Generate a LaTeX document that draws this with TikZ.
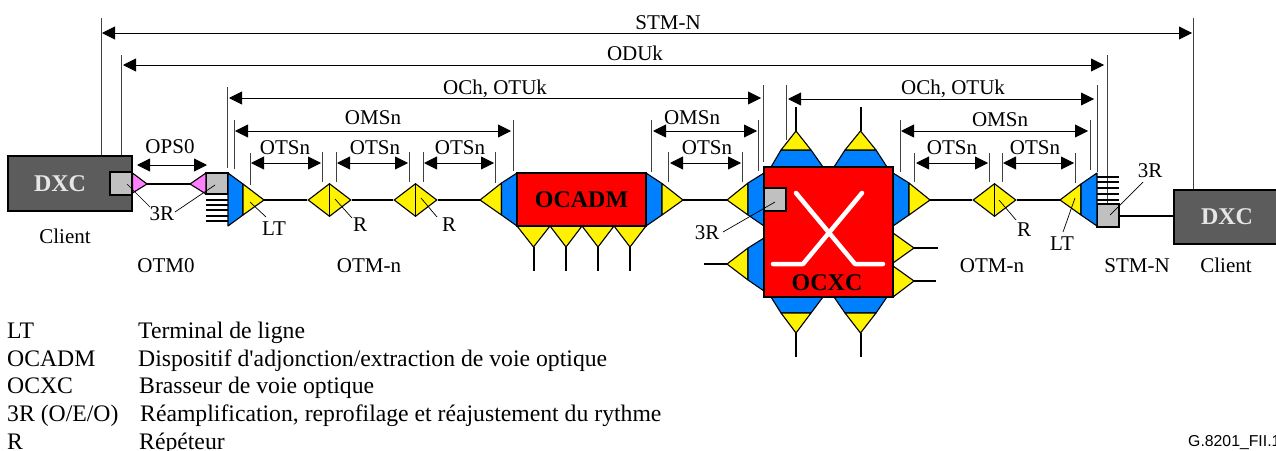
\documentclass[tikz,border=0pt]{standalone}
\usepackage{fontspec}
\setmainfont{Liberation Serif}
\newfontfamily\plainserif{Liberation Serif}
\newfontfamily\refsans{Liberation Sans}
\usetikzlibrary{arrows.meta}
\usetikzlibrary{shapes.geometric}
\definecolor{lineblue}{HTML}{0080FF}
\definecolor{linepink}{HTML}{FF80FF}
\definecolor{linegrey}{HTML}{C0C0C0}
\definecolor{dxcgrey}{HTML}{5C5C5C}
\begin{document}
\begin{tikzpicture}[x=1pt, y=-1pt, font=\fontsize{21}{24}\selectfont]
    \tikzstyle{dimline}=[line width=.9pt, {Triangle[length=13pt,width=13pt]}-{Triangle[length=13pt,width=13pt]}]
    \tikzstyle{tick}=[line width=.9pt, black!75]
    \tikzstyle{fibre}=[line width=2pt]
    \tikzstyle{leader}=[line width=.7pt]
    \tikzstyle{part}=[draw, line width=1.1pt, line join=round]
    \tikzstyle{yellowpart}=[part, fill=yellow]
    \tikzstyle{bluepart}=[part, fill=lineblue]
    \tikzstyle{pinkpart}=[part, fill=linepink]
    \tikzstyle{label}=[inner sep=0pt, anchor=base]
    \tikzstyle{keylabel}=[inner sep=0pt, anchor=base west, font=\fontsize{23.7}{26}\selectfont]
    \tikzstyle{boxlabel}=[inner sep=0pt, font=\fontsize{24}{26}\selectfont\bfseries]
    \tikzstyle{dxc}=[draw, line width=1.1pt, fill=dxcgrey, text=linegrey!40, inner sep=0pt, boxlabel]
    \tikzstyle{redbox}=[draw, line width=1.1pt, fill=red, inner sep=0pt, boxlabel]
    \tikzstyle{threer}=[draw, line width=1.1pt, fill=linegrey, inner sep=0pt, minimum width=22pt, minimum height=22pt]
    \tikzstyle{rdiamond}=[draw, shape=diamond, aspect=1.3, fill=yellow, line width=1.1pt, inner sep=0pt, minimum width=43pt, minimum height=33pt]
    \tikzstyle{cross}=[draw=white, line width=4.5pt, line cap=round, line join=round]
    \useasboundingbox (0,0) rectangle (1276,450);

    \foreach \nm/\xt/\ya/\yb in {stma/101/18/156, stmb/1193/18/190, odua/121/55/156, odub/1107/55/204,
      ocha/227/87/168, ochb/763/85/162, ochc/786/85/140, ochd/1097/85/172,
      omsa/234/120/169, omsb/513/120/171, omsc/651/120/172, omsd/758/120/171, omse/900/120/172, omsf/1090/120/170,
      otsa/250/153/185, otsb/322/152/182, otsc/336/152/182, otsd/409/152/182, otse/423/152/182, otsf/495/152/183,
      otsg/668/152/182, otsh/742/152/182, otsi/914/153/182, otsj/989/153/182, otsk/1002/153/182, otsl/1075/153/183}{
      \coordinate (\nm-t) at (\xt,\ya);
      \coordinate (\nm-b) at (\xt,\yb);
      \draw[tick] (\nm-t) -- (\nm-b);
    }
    \foreach \nm/\xa/\xb/\ya/\lx/\ly/\txt in {stm/102/1192/33/668/22/{STM-N}, odu/123/1104/65/635/53/{ODUk},
      ochl/229/761/98/495/87/{OCh, OTUk}, ochr/788/1094/99/953/87/{OCh, OTUk},
      omsl/235/511/131/373/117/{OMSn}, omsm/653/757/131/692/117/{OMSn}, omsr/901/1088/131/1000/119/{OMSn},
      ots1/251/321/163/285/147/{OTSn}, ots2/337/408/163/375/147/{OTSn}, ots3/424/494/163/460/147/{OTSn},
      ots4/670/741/163/707/147/{OTSn}, ots5/916/988/163/952/147/{OTSn}, ots6/1003/1074/163/1035/147/{OTSn},
      ops/137/207/165/170/146/{OPS0}}{
      \coordinate (\nm-l) at (\xa,\ya);
      \coordinate (\nm-r) at (\xb,\ya);
      \draw[dimline] (\nm-l) -- (\nm-r);
      \node[label] (\nm-text) at (\lx,{\ly+7}) {\txt};
    }

    \coordinate (pinka) at (147,184);
    \coordinate (pinkb) at (190,184);
    \coordinate (lta) at (264,200);
    \coordinate (adma) at (480,200);
    \coordinate (admb) at (683,200);
    \coordinate (xca) at (727,200);
    \coordinate (xcb) at (727,264);
    \coordinate (xcb-end) at (704,264);
    \coordinate (xcc) at (930,200);
    \coordinate (xcd) at (914,248);
    \coordinate (xcd-end) at (938,248);
    \coordinate (xce) at (914,281);
    \coordinate (xce-end) at (936,281);
    \coordinate (ltb) at (1060,200);

    \node[rdiamond] (ra) at (329.5,200) {};
    \node[rdiamond] (rb) at (415.5,200) {};
    \node[rdiamond] (rc) at (994.5,200) {};
    \node[threer, minimum height=21pt] (rrb) at (217,183.5) {};
    \node[threer, minimum height=23pt] (rrd) at (1108,215.5) {};

    \draw[fibre] (pinka) -- (pinkb);
    \draw[fibre] (lta) -- (ra.west);
    \draw[fibre] (ra.east) -- (rb.west);
    \draw[fibre] (rb.east) -- (adma);
    \draw[fibre] (admb) -- (xca);
    \draw[fibre] (xcb-end) -- (xcb);
    \draw[fibre] (xcc) -- (rc.west);
    \draw[fibre] (xcd) -- (xcd-end);
    \draw[fibre] (xce) -- (xce-end);
    \draw[fibre] (rc.east) -- (ltb);
    \foreach \yh in {200,205,210,216,221}{
      \draw[line width=1.4pt] (206,\yh) -- (228,\yh);
    }
    \foreach \yh in {177,182,188,194,200}{
      \draw[line width=1.4pt] (1097,\yh) -- (1119,\yh);
    }

    \draw (ra.north) -- (ra.south);
    \draw (rb.north) -- (rb.south);
    \draw (rc.north) -- (rc.south);
    \draw[pinkpart] (132.5,173) -- (pinka) -- (132.5,193) -- cycle;
    \draw[pinkpart] (206,173) -- (pinkb) -- (206,194) -- cycle;
    \draw[bluepart] (228,173) -- (243,184) -- (243,215) -- (228,226) -- cycle;
    \draw[yellowpart] (243,184) -- (lta) -- (243,215) -- cycle;
    \draw[yellowpart] (501.5,183) -- (adma) -- (501.5,215) -- cycle;
    \draw[bluepart] (501.5,183) -- (517,173) -- (517,226) -- (501.5,215) -- cycle;
    \draw[bluepart] (646,173) -- (662,183.5) -- (662,215) -- (646,226) -- cycle;
    \draw[yellowpart] (662,183.5) -- (admb) -- (662,215) -- cycle;
    \foreach \xa/\xb in {517/550,550/582,582/614,614/646}{
      \coordinate (drop\xa) at ({(\xa+\xb)/2},247);
      \coordinate (dropend\xa) at ({(\xa+\xb)/2},271);
      \draw[fibre] (drop\xa) -- (dropend\xa);
      \draw[yellowpart] (\xa,226) -- (\xb,226) -- (drop\xa) -- cycle;
    }
    \node[redbox, minimum width=129pt, minimum height=53pt] (ocadm) at (581.5,199.5) {OCADM};

    \draw[yellowpart] (748,183) -- (xca) -- (748,215) -- cycle;
    \draw[bluepart] (748,183) -- (764,173) -- (764,226) -- (748,215) -- cycle;
    \draw[yellowpart] (748,248) -- (xcb) -- (748,280) -- cycle;
    \draw[bluepart] (748,248) -- (764,238) -- (764,291) -- (748,280) -- cycle;
    \foreach \xa/\xb/\xc/\xd in {771/781/811/823,834/845/876/887}{
      \coordinate (upper\xa) at ({(\xb+\xc)/2},131);
      \coordinate (upperend\xa) at ({(\xb+\xc)/2},107);
      \coordinate (lower\xa) at ({(\xb+\xc)/2},333);
      \coordinate (lowerend\xa) at ({(\xb+\xc)/2},357);
      \draw[fibre] (upper\xa) -- (upperend\xa);
      \draw[fibre] (lower\xa) -- (lowerend\xa);
      \draw[bluepart] (\xa,167) -- (\xb,150) -- (\xc,150) -- (\xd,167) -- cycle;
      \draw[yellowpart] (\xb,150) -- (upper\xa) -- (\xc,150) -- cycle;
      \draw[bluepart] (\xa,297) -- (\xb,313) -- (\xc,313) -- (\xd,297) -- cycle;
      \draw[yellowpart] (\xb,313) -- (lower\xa) -- (\xc,313) -- cycle;
    }
    \draw[bluepart] (893,173) -- (909,183) -- (909,215) -- (893,226) -- cycle;
    \draw[yellowpart] (909,183) -- (xcc) -- (909,215) -- cycle;
    \draw[yellowpart] (893,233) -- (xcd) -- (893,263) -- cycle;
    \draw[yellowpart] (893,266) -- (xce) -- (893,297) -- cycle;
    \node[redbox, minimum width=129pt, minimum height=130pt] (ocxc) at (828.5,232) {};
    \node[threer, minimum height=23pt] (rrc) at (775,199.5) {};
    \draw[cross] (796,193) -- (855,264) -- (883,264);
    \draw[cross] (862,193) -- (803,264) -- (773,264);
    \node[boxlabel] (ocxc-text) at (827,283) {OCXC};

    \draw[yellowpart] (1081,184) -- (ltb) -- (1081,215) -- cycle;
    \draw[bluepart] (1081,184) -- (1097,173) -- (1097,226) -- (1081,215) -- cycle;

    \node[dxc, minimum width=124pt, minimum height=55pt] (dxca) at (70,183.5) {\hspace{-20pt}DXC};
    \node[dxc, minimum width=104pt, minimum height=54pt] (dxcb) at (1226,217) {\hspace{2pt}DXC};
    \node[threer, minimum height=23pt] (rra) at (121,183.5) {};
    \draw[fibre] (rrd.east) -- (dxcb.west |- rrd.east);

    \foreach \nm/\lx/\ly/\txt in {clienta/65/236/Client, clientb/1226/265/Client, otmz/166/265/OTM0,
      otma/369/265/OTM-n, otmb/992/265/OTM-n, stmc/1137/265/STM-N,
      lblrra/162/213/3R, lblrrc/707/232/3R, lblrrd/1150/170/3R, lblrb/1024/229/R,
      lblra/360/224/R, lblrd/449/224/R, lblta/274/228/LT, lbltb/1062/243/LT}{
      \node[label] (\nm) at (\lx,{\ly+7}) {\txt};
    }
    \foreach \nm/\xa/\ya/\xb/\yb in {lda/127/184/150/207, ldb/175/212/215/185, ldc/250/202/266/217,
      ldd/335/199/352/218, lde/421/198/437/217, ldf/723/232/775/202,
      ldg/999/200/1016/220, ldh/1075/198/1063/232, ldi/1143/182/1110/215}{
      \coordinate (\nm-a) at (\xa,\ya);
      \coordinate (\nm-b) at (\xb,\yb);
      \draw[leader] (\nm-a) -- (\nm-b);
    }

    \foreach \nm/\xt/\yt/\txt in {keya/138/338/{Terminal de ligne}, keyb/138/366/{Dispositif d{\plainserif '}adjonction/extraction de voie optique},
      keyc/139/393/{Brasseur de voie optique}, keyd/140/421/{Réamplification, reprofilage et réajustement du rythme}, keye/139/449/{Répéteur},
      keyf/7/338/LT, keyg/7/366/OCADM, keyh/7/393/OCXC, keyi/7/421/{3R (O/E/O)}, keyj/7/449/R}{
      \node[keylabel] (\nm) at (\xt,\yt) {\txt};
    }
    \node[label, anchor=base west, font=\fontsize{15.8}{18}\selectfont\refsans] (refcode) at (1188,446) {G.8201\_FII.1};
\end{tikzpicture}
\end{document}
